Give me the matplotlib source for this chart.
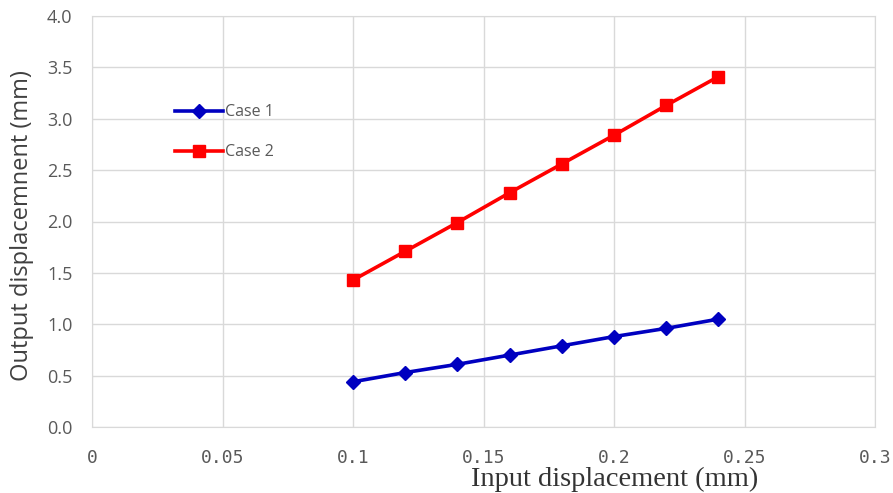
import numpy as np
import matplotlib
matplotlib.use('Agg')
import matplotlib.pyplot as plt

# input displacement (mm)
x_in = [0.10, 0.12, 0.14, 0.16, 0.18, 0.20, 0.22, 0.24]
# output displacement (mm)
case1 = [0.44, 0.53, 0.61, 0.70, 0.79, 0.88, 0.96, 1.05]
case2 = [1.43, 1.71, 1.99, 2.28, 2.56, 2.84, 3.13, 3.41]

xticks = [0, 0.05, 0.1, 0.15, 0.2, 0.25, 0.3]
xticklabels = ['0', '0.05', '0.1', '0.15', '0.2', '0.25', '0.3']
yticks = np.arange(0, 4.01, 0.5)

fig = plt.figure(figsize=(8.93, 4.93), dpi=100)
ax = fig.add_axes([92/893, 1 - 427/493, 783/893, 411/493])

ax.plot(x_in, case1, color='#0000c0', lw=2.6, marker='D', ms=7, label='Case 1')
ax.plot(x_in, case2, color='#ff0000', lw=2.6, marker='s', ms=9, label='Case 2')

ax.set_xlim(0, 0.3)
ax.set_ylim(0, 4.0)
ax.set_xticks(xticks)
ax.set_xticklabels(xticklabels, family='DejaVu Sans Mono', fontsize=13, color='#595959')
ax.set_yticks(yticks)
ax.set_yticklabels(['%.1f' % v for v in yticks], family='Open Sans', fontsize=13, color='#595959')
ax.tick_params(length=0)
ax.tick_params(axis='x', pad=16)
ax.tick_params(axis='y', pad=14)
ax.grid(True, color='#d9d9d9', lw=1)
ax.set_axisbelow(True)
for s in ax.spines.values():
    s.set_color('#d9d9d9')

ax.set_xlabel('Input displacement (mm)', family='Liberation Serif', fontsize=20.5, color='#333333', labelpad=0)
ax.xaxis.set_label_coords(0.668, -0.098)
ax.set_ylabel('Output displacemnent (mm)', family='Open Sans', fontsize=17, color='#404040')
ax.yaxis.set_label_coords(-0.074, 0.49)

ax.legend(loc='upper left', bbox_to_anchor=(0.088, 0.82), frameon=False,
          handlelength=3.0, handletextpad=0.1, labelspacing=1.5,
          prop={'family': 'Open Sans', 'size': 11.5}, labelcolor='#595959')

fig.savefig('out.png', dpi=100)
